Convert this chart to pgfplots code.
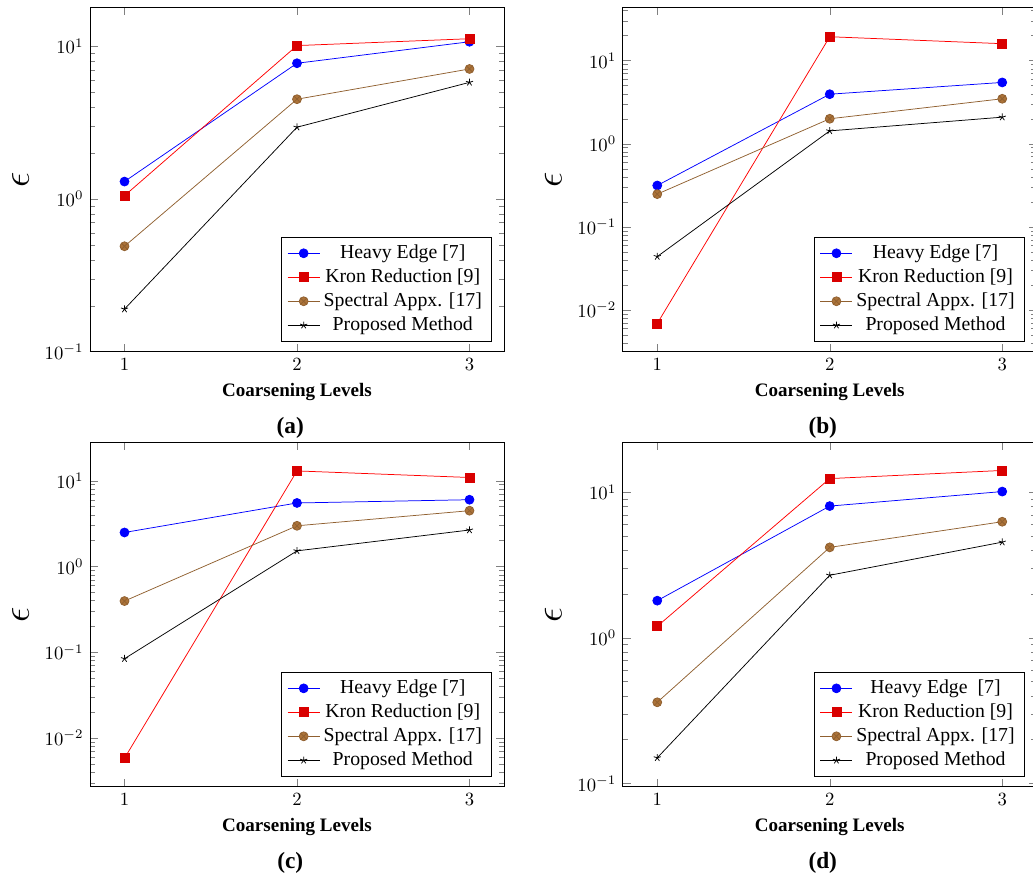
\documentclass[border=0pt]{standalone}
\usepackage{fontspec}
\setmainfont{Liberation Serif}
\usepackage{pgfplots}
\pgfplotsset{compat=1.18}
\pgfplotsset{
  myax/.style={
    scale only axis, width=221.9pt, height=184.6pt,
    xmin=0.8, xmax=3.2, xtick={1,2,3},
    xlabel={\textbf{Coarsening Levels}},
    ylabel={$\epsilon$},
    every axis x label/.style={at={(axis description cs:0.5,-0.116)},anchor=center,font=\fontsize{10.2}{12}\selectfont},
    every axis y label/.style={at={(axis description cs:-0.168,0.5)},anchor=center,rotate=90,font=\fontsize{22}{26}\selectfont},
    legend pos=south east, legend cell align=center,
    legend style={font=\fontsize{10.6}{12.7}\selectfont},
  },
  he/.style={blue, mark=*, mark size=2.4pt},
  kr/.style={red, mark=square*, mark size=2.4pt, mark options={fill=red!85!black, draw=red!85!black}},
  sp/.style={brown!75!black, mark=otimes*, mark size=2.4pt, mark options={fill=brown!90!black}},
  pm/.style={black, mark=star, mark size=2pt},
}
\begin{document}
\begin{tikzpicture}
% (a)
\begin{semilogyaxis}[myax, at={(48.24pt,281.6pt)}, anchor=south west, ymin=0.1, ymax=18]
\addplot[he] coordinates {(1,1.30) (2,7.74) (3,10.7)};
\addplot[kr] coordinates {(1,1.05) (2,10.1) (3,11.2)};
\addplot[sp] coordinates {(1,0.49) (2,4.5) (3,7.1)};
\addplot[pm] coordinates {(1,0.19) (2,2.95) (3,5.8)};
\legend{Heavy Edge [7], Kron Reduction [9], Spectral Appx. [17], Proposed Method}
\end{semilogyaxis}
% (b)
\begin{semilogyaxis}[myax, at={(333.8pt,281.6pt)}, anchor=south west, ymin=0.00316, ymax=43.9]
\addplot[he] coordinates {(1,0.315) (2,3.95) (3,5.47)};
\addplot[kr] coordinates {(1,0.0069) (2,19.4) (3,16.0)};
\addplot[sp] coordinates {(1,0.248) (2,2.0) (3,3.48)};
\addplot[pm] coordinates {(1,0.044) (2,1.43) (3,2.09)};
\legend{Heavy Edge [7], Kron Reduction [9], Spectral Appx. [17], Proposed Method}
\end{semilogyaxis}
% (c)
\begin{semilogyaxis}[myax, at={(48.24pt,48.4pt)}, anchor=south west, ymin=0.0027, ymax=28]
\addplot[he] coordinates {(1,2.49) (2,5.5) (3,6.0)};
\addplot[kr] coordinates {(1,0.0058) (2,13.0) (3,10.9)};
\addplot[sp] coordinates {(1,0.395) (2,2.98) (3,4.47)};
\addplot[pm] coordinates {(1,0.084) (2,1.52) (3,2.66)};
\legend{Heavy Edge [7], Kron Reduction [9], Spectral Appx. [17], Proposed Method}
\end{semilogyaxis}
% (d)
\begin{semilogyaxis}[myax, at={(333.8pt,48.4pt)}, anchor=south west, ymin=0.095, ymax=22]
\addplot[he] coordinates {(1,1.80) (2,8.03) (3,10.1)};
\addplot[kr] coordinates {(1,1.20) (2,12.4) (3,14.1)};
\addplot[sp] coordinates {(1,0.361) (2,4.18) (3,6.27)};
\addplot[pm] coordinates {(1,0.150) (2,2.69) (3,4.54)};
\legend{Heavy Edge~ [7], Kron Reduction [9], Spectral Appx. [17], Proposed Method}
\end{semilogyaxis}
\node[font=\fontsize{12.5}{15}\selectfont\bfseries] at (155.6pt,240.8pt) {(a)};
\node[font=\fontsize{12.5}{15}\selectfont\bfseries] at (441.0pt,240.8pt) {(b)};
\node[font=\fontsize{12.5}{15}\selectfont\bfseries] at (155.6pt,7.6pt) {(c)};
\node[font=\fontsize{12.5}{15}\selectfont\bfseries] at (441.0pt,7.6pt) {(d)};
\pgfresetboundingbox
\useasboundingbox (0pt,0pt) rectangle (553.7pt,470.1pt);
\end{tikzpicture}
\end{document}
